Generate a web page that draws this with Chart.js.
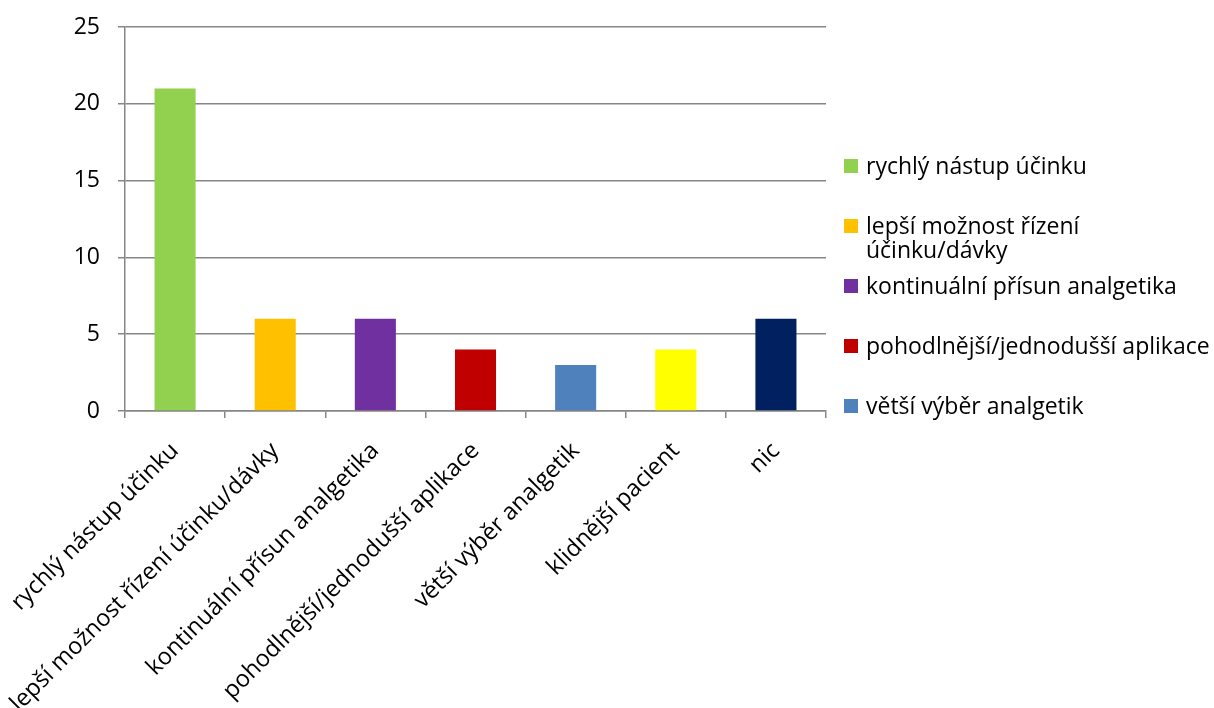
<!DOCTYPE html>
<html>
<head>
<meta charset="utf-8">
<script src="https://cdn.jsdelivr.net/npm/chart.js@4"></script>
<style>
  html, body { margin: 0; padding: 0; background: #fff; }
  #wrap { width: 1214px; height: 708px; position: relative; }
</style>
</head>
<body>
<div id="wrap"><canvas id="chart"></canvas></div>
<script>
// Data
const categories = [
    'rychlý nástup účinku',
    'lepší možnost řízení účinku/dávky',
    'kontinuální přísun analgetika',
    'pohodlnější/jednodušší aplikace',
    'větší výběr analgetik',
    'klidnější pacient',
    'nic'
];
const counts = [21, 6, 6, 4, 3, 4, 6];
const barColors = ['#92D050', '#FFC000', '#7030A0', '#C00000', '#4F81BD', '#FFFF00', '#002060'];
const yTicks = [0, 5, 10, 15, 20, 25];
// the legend in the original only shows the first five entries
const legendShown = 5;

const FONT = '"Open Sans", "DejaVu Sans", sans-serif';
const AXIS = '#868686';

// wrap a legend label into lines no wider than maxWidth
function wrapText(ctx, text, maxWidth) {
    const words = text.split(' ');
    const lines = [];
    let line = '';
    words.forEach(w => {
        const test = line ? line + ' ' + w : w;
        if (line && ctx.measureText(test).width > maxWidth) {
            lines.push(line);
            line = w;
        } else {
            line = test;
        }
    });
    if (line) lines.push(line);
    return lines;
}

// Right-hand legend, laid out like the spreadsheet one
const sideLegend = {
    id: 'sideLegend',
    afterDraw(chart) {
        const ctx = chart.ctx;
        const labels = chart.data.labels;
        const colors = chart.data.datasets[0].backgroundColor;
        const boxX = 844, boxSize = 14, textX = 866;
        const maxWidth = chart.width - textX;
        ctx.save();
        ctx.font = '23px ' + FONT;
        ctx.textBaseline = 'middle';
        ctx.textAlign = 'left';
        for (let i = 0; i < Math.min(legendShown, labels.length); i++) {
            const y = 166 + 60 * i;
            ctx.fillStyle = colors[i];
            ctx.fillRect(boxX, y - boxSize / 2, boxSize, boxSize);
            ctx.fillStyle = '#000';
            const lines = wrapText(ctx, labels[i], maxWidth - 2);
            lines.forEach((ln, k) => ctx.fillText(ln, textX, y + 1 + k * 24));
        }
        ctx.restore();
    }
};

document.addEventListener('DOMContentLoaded', function() {
    const ctx = document.getElementById('chart');
    new Chart(ctx, {
        type: 'bar',
        data: {
            labels: categories,
            datasets: [{
                data: counts,
                backgroundColor: barColors,
                barPercentage: 0.41,
                categoryPercentage: 1.0
            }]
        },
        options: {
            responsive: true,
            maintainAspectRatio: false,
            animation: false,
            layout: {
                padding: { top: 27, right: 388, left: 0, bottom: 0 }
            },
            plugins: {
                legend: { display: false },
                tooltip: { enabled: false }
            },
            scales: {
                x: {
                    offset: true,
                    border: { display: true, color: AXIS, width: 1.5 },
                    grid: {
                        offset: true,
                        drawOnChartArea: false,
                        drawTicks: true,
                        tickLength: 7,
                        color: AXIS,
                        lineWidth: 1.5
                    },
                    ticks: {
                        minRotation: 45,
                        maxRotation: 45,
                        autoSkip: false,
                        padding: 19,
                        color: '#000',
                        font: { family: FONT, size: 23.5 }
                    },
                    afterFit(scale) {
                        scale.height = 297;
                        // labels may spill out of the canvas like in the original
                        scale.paddingLeft = 0;
                        scale.paddingRight = 0;
                    }
                },
                y: {
                    min: 0,
                    max: 25,
                    border: { display: true, color: AXIS, width: 1.5 },
                    grid: {
                        color: AXIS,
                        lineWidth: 1.5,
                        tickLength: 7
                    },
                    ticks: {
                        stepSize: 5,
                        padding: 18,
                        color: '#000',
                        font: { family: FONT, size: 23 },
                        callback: (v) => yTicks.includes(v) ? v : ''
                    },
                    afterFit(scale) {
                        scale.width = 125;
                        scale.paddingTop = 0;
                        scale.paddingBottom = 0;
                    }
                }
            }
        },
        plugins: [sideLegend]
    });
});
</script>
</body>
</html>
